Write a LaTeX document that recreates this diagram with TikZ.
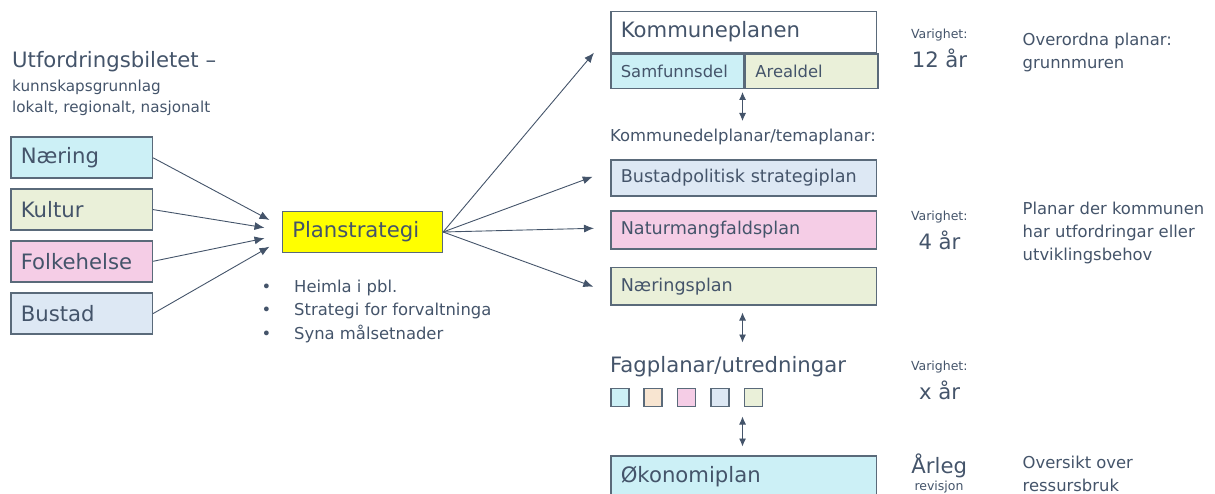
\documentclass[tikz,border=0pt]{standalone}
\usepackage{fontspec}
\setmainfont{DejaVu Sans}
\usetikzlibrary{arrows.meta,positioning}

\definecolor{tekstfarge}{HTML}{44546A}
\definecolor{strek}{HTML}{5A6A7A}
\definecolor{cyanfarge}{HTML}{CCF0F6}
\definecolor{grontfarge}{HTML}{EAF0D9}
\definecolor{rosafarge}{HTML}{F5CDE6}
\definecolor{blafarge}{HTML}{DDE8F4}
\definecolor{fersken}{HTML}{F8E5D1}
\definecolor{gulfarge}{HTML}{FFFF00}

\begin{document}
\begin{tikzpicture}[x=1pt,y=-1pt]
    \newcommand*{\fontStor}{\fontsize{21.2}{25}\selectfont}
    \newcommand*{\fontBoks}{\fontsize{17.6}{21}\selectfont}
    \newcommand*{\fontMiddels}{\fontsize{16.4}{23}\selectfont}
    \newcommand*{\fontLiten}{\fontsize{15.2}{21}\selectfont}
    \newcommand*{\fontMini}{\fontsize{12.5}{15}\selectfont}
    \tikzstyle{boks}=[draw=strek, line width=1.6pt, text=tekstfarge, anchor=north west, inner xsep=10pt, inner ysep=0pt, align=left];
    \tikzstyle{merknad}=[text=tekstfarge, anchor=base west, inner sep=0pt, align=left];
    \tikzstyle{rute}=[draw=strek, line width=1.6pt, anchor=north west, inner sep=0pt, minimum size=18pt];
    \tikzstyle{pil}=[draw=tekstfarge, line width=0.9pt, -{Latex[length=10pt,width=8pt]}];
    \tikzstyle{dobbelpil}=[draw=tekstfarge, line width=0.9pt, {Latex[length=8pt,width=7pt]}-{Latex[length=8pt,width=7pt]}];

    \useasboundingbox (0,0) rectangle (1215,494);
    \clip (0,0) rectangle (1215,494);

    % utfordringsbiletet
    \node[merknad, font=\fontStor] (overskrift) at (12,68) {Utfordringsbiletet –};
    \node[merknad, font=\fontLiten] (grunnlag) at (12,92) {kunnskapsgrunnlag};
    \node[merknad, font=\fontLiten] (nivaa) at (12,113) {lokalt, regionalt, nasjonalt};

    \foreach \id/\navn/\farge/\y in {naering/Næring/cyanfarge/136.5, kultur/Kultur/grontfarge/188.3, folkehelse/Folkehelse/rosafarge/240, bustad/Bustad/blafarge/292.3} {
      \node[boks, fill=\farge, font=\fontStor, text width=121.5pt, minimum height=41pt] (\id) at (10,\y) {\navn};
    }

    \node[boks, fill=gulfarge, font=\fontStor, text width=140pt, minimum height=41pt] (strategi) at (281.5,210.7) {Planstrategi};

    \coordinate (inn1) at (269.5,220);
    \coordinate (inn2) at (264.5,227.7);
    \coordinate (inn3) at (264.5,238.3);
    \coordinate (inn4) at (269.5,246.7);
    \foreach \id/\i in {naering/1, kultur/2, folkehelse/3, bustad/4} {
      \draw[pil] (\id.east) -- (inn\i);
    }

    \foreach \tekst [count=\i] in {Heimla i pbl., Strategi for forvaltninga, Syna målsetnader} {
      \node[merknad, font=\fontMiddels] (kule\i) at (261.5,268.5+23.5*\i) {\textbullet};
      \node[merknad, font=\fontMiddels] (punkt\i) at (294,268.5+23.5*\i) {\tekst};
    }

    % planane
    \node[boks, fill=white, font=\fontStor, text width=245.5pt, minimum height=41pt] (kommuneplan) at (610,10.7) {Kommuneplanen};
    \node[boks, fill=cyanfarge, font=\fontMiddels, text width=113pt, minimum height=34.3pt] (samfunn) at (kommuneplan.south west) {Samfunnsdel};
    \node[boks, fill=grontfarge, font=\fontMiddels, text width=112.5pt, minimum height=34.3pt] (areal) at (samfunn.north east) {Arealdel};

    \node[merknad, font=\fontMiddels] (delplanar) at (610,142) {Kommunedelplanar/temaplanar:};
    \node[boks, fill=blafarge, font=\fontBoks, text width=245.5pt, minimum height=35.7pt] (bustadplan) at (610,159.3) {Bustadpolitisk strategiplan};
    \node[boks, fill=rosafarge, font=\fontBoks, text width=245.5pt, minimum height=38pt] (naturplan) at (610,210) {Naturmangfaldsplan};
    \node[boks, fill=grontfarge, font=\fontBoks, text width=245.5pt, minimum height=37.3pt] (naeringsplan) at (610,266.7) {Næringsplan};

    \node[merknad, font=\fontStor] (fagplanar) at (610,372.5) {Fagplanar/utredningar};
    \foreach \farge [count=\i] in {cyanfarge, fersken, rosafarge, blafarge, grontfarge} {
      \node[rute, fill=\farge] (fag\i) at (610+33.4*\i-33.4,387.5) {};
    }

    \node[boks, fill=cyanfarge, font=\fontStor, text width=245.5pt, minimum height=42pt] (okonomi) at (610,455) {Økonomiplan};

    \coordinate (ut1) at (594,52.7);
    \coordinate (ut2) at (592.7,176.7);
    \coordinate (ut3) at (594,228.3);
    \coordinate (ut4) at (593.3,286.7);
    \foreach \i in {1,...,4} {
      \draw[pil] (strategi.east) -- (ut\i);
    }

    \coordinate (ned1) at (742.5,92);
    \coordinate (opp1) at (742.5,121);
    \coordinate (ned2) at (742.5,312.5);
    \coordinate (opp2) at (742.5,342.5);
    \coordinate (ned3) at (742.5,416.5);
    \coordinate (opp3) at (742.5,446.5);
    \foreach \i in {1,2,3} {
      \draw[dobbelpil] (ned\i) -- (opp\i);
    }

    % varighet
    \foreach \y/\tid/\i in {39/12 år/1, 220.7/4 år/2, 370.5/x år/3} {
      \node[merknad, anchor=base, font=\fontMini] (varighet\i) at (939.3,\y) {Varighet:};
      \node[merknad, anchor=base, font=\fontStor] (tid\i) at (939.5,\y+28.5) {\tid};
    }
    \node[merknad, anchor=base, font=\fontStor] (aarleg) at (939.2,473.3) {Årleg};
    \node[merknad, anchor=base, font=\fontMini] (revisjon) at (939,490.5) {revisjon};

    % siste linja er base
    \node[merknad, font=\fontMiddels] (overordna) at (1022.5,69) {Overordna planar:\\grunnmuren};
    \node[merknad, font=\fontMiddels] (utfordringar) at (1022.5,260.5) {Planar der kommunen\\har utfordringar eller\\utviklingsbehov};
    \node[merknad, font=\fontMiddels] (oversikt) at (1022.5,491) {Oversikt over\\ressursbruk};
  \end{tikzpicture}
\end{document}
